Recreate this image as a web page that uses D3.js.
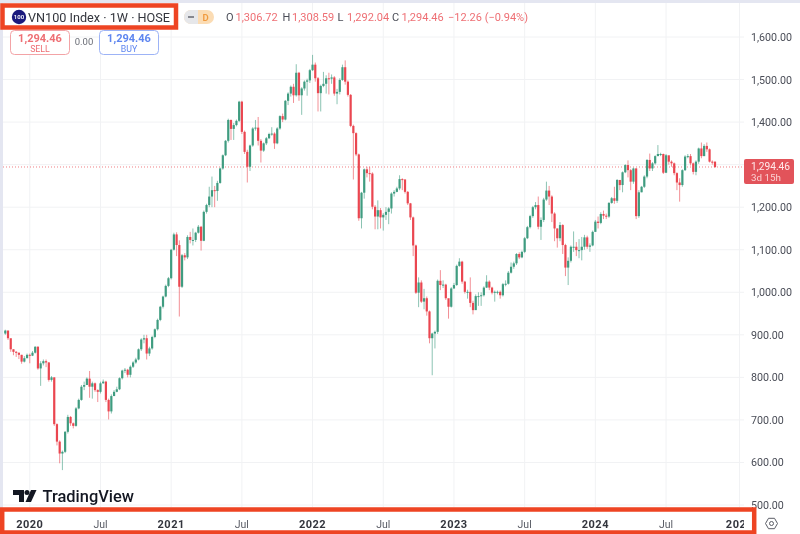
<!DOCTYPE html>
<html><head><meta charset="utf-8">
<script src="https://cdnjs.cloudflare.com/ajax/libs/d3/7.8.5/d3.min.js"></script>
<style>
html,body{margin:0;padding:0;background:#fff;overflow:hidden}
svg{display:block;filter:blur(0.55px);font-family:Roboto,"Noto Sans",sans-serif}
</style></head><body><svg id="c" width="800" height="534"></svg>
<script>
const firstWeek = "2019-11-04";
const firstOpen = 903;
const closes = [910,892,866,860,858,853,837,845,853,851,
858,872,821,833,838,835,794,800,690,649,
621,625,672,707,692,686,727,747,778,782,
797,778,786,770,766,786,790,747,720,756,
766,772,798,816,818,806,825,835,842,866,
889,892,856,868,895,913,935,966,990,1015,
1033,1100,1136,1111,1013,1087,1082,1130,1123,1123,
1140,1154,1121,1189,1205,1225,1240,1238,1257,1291,
1322,1356,1405,1384,1393,1403,1448,1377,1330,1295,
1345,1385,1387,1356,1333,1350,1362,1372,1373,1350,
1385,1414,1406,1450,1467,1483,1463,1516,1463,1479,
1495,1498,1522,1535,1503,1468,1485,1490,1503,1502,
1505,1467,1471,1499,1529,1495,1464,1391,1374,1324,
1174,1234,1289,1280,1279,1201,1178,1193,1176,1182,
1189,1197,1232,1236,1244,1266,1265,1236,1209,1176,
1110,999,1023,978,986,955,892,903,907,1027,
1017,1018,986,966,1009,1017,1062,1072,1025,1001,
1001,975,958,991,991,993,1011,1025,1011,999,
1001,1001,993,1019,1020,1046,1060,1068,1090,1082,
1095,1127,1153,1179,1200,1205,1154,1170,1218,1239,
1225,1185,1150,1127,1158,1111,1058,1074,1107,1107,
1099,1099,1107,1129,1107,1110,1142,1166,1163,1184,
1180,1178,1210,1221,1215,1264,1252,1282,1299,1287,
1260,1291,1179,1235,1248,1272,1311,1291,1303,1320,
1325,1325,1281,1322,1307,1303,1280,1258,1252,1287,
1319,1320,1303,1283,1307,1338,1320,1344,1336,1307,
1306.72,1294.46];
const highs = [912,910,868,866,862,858,853,850,856,856,
862,873,873,838,842,842,836,803,800,692,
652,628,674,712,709,694,730,750,782,790,
800,815,790,788,772,790,795,792,750,760,
770,778,800,818,822,820,828,838,846,868,
892,900,900,872,898,915,938,968,992,1018,
1036,1102,1140,1141,1122,1090,1092,1134,1142,1150,
1142,1158,1156,1192,1208,1248,1272,1250,1262,1293,
1324,1358,1408,1406,1398,1406,1450,1450,1380,1335,
1347,1388,1405,1412,1360,1352,1365,1375,1388,1376,
1388,1416,1420,1452,1470,1486,1490,1536,1518,1482,
1498,1502,1525,1558,1540,1506,1488,1518,1510,1516,
1512,1508,1478,1503,1535,1545,1498,1466,1394,1376,
1326,1236,1291,1295,1295,1282,1205,1216,1198,1186,
1200,1200,1235,1240,1248,1275,1268,1266,1238,1210,
1178,1112,1035,1028,1008,990,957,905,910,1030,
1052,1028,1020,984,1012,1022,1065,1080,1074,1027,
1006,1035,980,995,1000,1000,1014,1040,1028,1013,
1004,1004,1004,1022,1028,1050,1070,1072,1092,1094,
1098,1130,1156,1182,1203,1212,1225,1176,1222,1260,
1250,1228,1188,1150,1165,1160,1114,1082,1110,1143,
1118,1125,1130,1135,1133,1115,1145,1170,1178,1188,
1192,1185,1212,1224,1248,1266,1262,1284,1301,1310,
1290,1293,1292,1240,1250,1275,1313,1326,1306,1322,
1346,1328,1326,1325,1318,1310,1305,1282,1268,1289,
1322,1325,1325,1305,1310,1340,1352,1348,1352,1338,
1310,1308.59];
const lows = [900,888,860,852,848,843,832,835,845,833,
850,856,818,780,828,824,790,790,686,640,
598,582,622,668,686,680,684,725,745,770,
790,752,750,766,742,762,785,742,701,715,
760,765,770,795,810,800,800,822,832,840,
862,880,842,850,865,892,910,932,962,988,
1012,1030,1098,1085,943,1010,1075,1078,1115,1110,
1118,1138,1098,1120,1185,1200,1200,1200,1215,1255,
1288,1320,1352,1358,1358,1390,1400,1372,1325,1258,
1285,1342,1380,1345,1305,1330,1346,1360,1368,1337,
1348,1382,1400,1404,1440,1460,1445,1460,1450,1417,
1474,1462,1492,1520,1495,1425,1425,1482,1467,1465,
1490,1462,1442,1465,1497,1488,1460,1388,1265,1320,
1168,1150,1220,1270,1260,1195,1148,1148,1150,1145,
1170,1160,1185,1225,1235,1240,1240,1232,1205,1170,
1085,996,965,975,960,945,880,805,868,902,
1005,1010,982,938,964,1008,1015,1060,1020,997,
985,965,948,960,968,968,990,1010,1005,995,
978,995,985,990,1014,1018,1044,1055,1064,1078,
1080,1092,1125,1150,1175,1195,1148,1123,1165,1215,
1205,1165,1120,1105,1120,1090,1038,1017,1070,1095,
1085,1080,1075,1100,1102,1095,1108,1142,1150,1160,
1172,1172,1175,1208,1208,1210,1240,1235,1280,1270,
1240,1255,1172,1175,1235,1245,1268,1285,1285,1300,
1320,1320,1278,1280,1300,1295,1275,1240,1213,1248,
1285,1315,1298,1277,1275,1302,1315,1320,1330,1305,
1300,1292.04];
const priceTicks = [500,600,700,800,900,1000,1100,1200,1300,1400,1500,1600];
const axisLabels = priceTicks.filter(d=>d!==1300);
const timeTicks = [["2020-01-06","2020",true],["2020-07-06","Jul",false],["2021-01-04","2021",true],["2021-07-05","Jul",false],["2022-01-03","2022",true],["2022-07-04","Jul",false],["2023-01-02","2023",true],["2023-07-03","Jul",false],["2024-01-01","2024",true],["2024-07-01","Jul",false],["2025-01-06","2025",true]];
const lastPrice = 1294.46;
const ohlcLabels = [["O","1,306.72"],["H","1,308.59"],["L","1,292.04"],["C","1,294.46"]];
const changeLabel = "−12.26 (−0.94%)";
const title = "VN100 Index · 1W · HOSE";

const up="#3f9c80", down="#ea4650", redText="#ee6f74", blueText="#5f86f0";
const parse=d3.utcParse("%Y-%m-%d");
const t0=parse(firstWeek);
const dates=closes.map((_,i)=>d3.utcDay.offset(t0,i*7));
const x=d3.scaleUtc().domain([dates[0],dates[dates.length-1]]).range([5.3,715]);
const y=d3.scaleLinear().domain([500,1600]).range([505,37]);
const svg=d3.select("#c");
svg.append("rect").attr("width",800).attr("height",534).attr("fill","#fff");
// grid
svg.append("g").selectAll("line").data(priceTicks).join("line")
 .attr("x1",3).attr("x2",744).attr("y1",d=>y(d)).attr("y2",d=>y(d)).attr("stroke","#f1f2f4");
svg.append("g").selectAll("line").data(timeTicks).join("line")
 .attr("x1",d=>x(parse(d[0]))).attr("x2",d=>x(parse(d[0]))).attr("y1",3).attr("y2",507).attr("stroke","#f1f2f4");
// frame
svg.append("rect").attr("x",0).attr("y",0).attr("width",800).attr("height",3).attr("fill","#e4e6f1");
svg.append("rect").attr("x",0).attr("y",0).attr("width",3).attr("height",534).attr("fill","#e4e6f1");
// last price line
svg.append("line").attr("x1",3).attr("x2",744).attr("y1",y(lastPrice)).attr("y2",y(lastPrice))
 .attr("stroke","#ef7f85").attr("stroke-width",1).attr("stroke-dasharray","1 2");
// candles
const bars=closes.map((c,i)=>({d:dates[i],o:i?closes[i-1]:firstOpen,h:highs[i],l:lows[i],c}));
const g=svg.append("g").selectAll("g").data(bars).join("g");
g.append("line").attr("x1",d=>x(d.d)).attr("x2",d=>x(d.d)).attr("y1",d=>y(d.h)).attr("y2",d=>y(d.l))
 .attr("stroke",d=>d.c>=d.o?up:down).attr("stroke-width",1).attr("opacity",.6);
g.append("rect").attr("x",d=>x(d.d)-1.1).attr("width",2.2)
 .attr("y",d=>y(Math.max(d.o,d.c))).attr("height",d=>Math.max(1,Math.abs(y(d.o)-y(d.c))))
 .attr("fill",d=>d.c>=d.o?up:down);
// price axis
svg.append("g").selectAll("text").data(axisLabels).join("text")
 .attr("x",751).attr("y",d=>y(d)+4).attr("font-size",10.7).attr("letter-spacing",0).attr("fill","#4a4d57")
 .text(d=>d3.format(",.2f")(d));
// price tag
svg.append("rect").attr("x",744).attr("y",159).attr("width",50).attr("height",25).attr("rx",2).attr("fill","#e2535a");
svg.append("text").attr("x",751).attr("y",169.5).attr("font-size",10.2).attr("fill","#ffe9ea").text(d3.format(",.2f")(lastPrice));
svg.append("text").attr("x",751).attr("y",181.2).attr("font-size",9.8).attr("fill","#fbd0d2").text("3d 15h");
// time labels
const defs=svg.append("defs");
defs.append("clipPath").attr("id","tc").append("rect").attr("x",0).attr("y",505).attr("width",744).attr("height",29);
// highlight boxes
svg.append("rect").attr("x",2.2).attr("y",509.5).attr("width",752).attr("height",23).attr("fill","#fff").attr("stroke","#ee4423").attr("stroke-width",4.5);
svg.append("g").attr("clip-path","url(#tc)").selectAll("text").data(timeTicks).join("text")
 .attr("x",d=>x(parse(d[0]))).attr("y",527.5).attr("text-anchor","middle")
 .attr("font-size",d=>d[2]?11:10.5).attr("font-weight",d=>d[2]?700:400).attr("letter-spacing",d=>d[2]?0.5:0)
 .attr("fill",d=>d[2]?"#33353d":"#5a5d66").text(d=>d[1]);
svg.append("rect").attr("x",2.5).attr("y",5.5).attr("width",173.5).attr("height",22).attr("fill","#fff").attr("stroke","#ee4423").attr("stroke-width",4.5);
// title
svg.append("circle").attr("cx",19).attr("cy",17).attr("r",7.2).attr("fill","#1b1a7e");
svg.append("text").attr("x",19).attr("y",19).attr("text-anchor","middle").attr("font-size",6).attr("fill","#fff").attr("font-weight",600).text("100");
svg.append("text").attr("x",28).attr("y",22).attr("font-size",13.6).attr("fill","#33353d").attr("textLength",142).attr("lengthAdjust","spacingAndGlyphs").text(title);
// interval pill
svg.append("rect").attr("x",184).attr("y",10).attr("width",30).attr("height",14).attr("rx",7).attr("fill","#fbdcb4");
svg.append("path").attr("d","M191 10H198V24H191A7 7 0 0 1 191 10Z").attr("fill","#e6e7ea");
svg.append("rect").attr("x",188).attr("y",16).attr("width",6).attr("height",2).attr("fill","#85878f");
svg.append("text").attr("x",205.5).attr("y",21).attr("text-anchor","middle").attr("font-size",9.5).attr("font-weight",600).attr("fill","#f09a3e").text("D");
// OHLC legend
const lx=[226,282.5,337.5,392];
ohlcLabels.forEach((d,i)=>{
 svg.append("text").attr("x",lx[i]).attr("y",21).attr("font-size",11).attr("fill","#4a4d57").text(d[0]);
 svg.append("text").attr("x",lx[i]+9.5).attr("y",21).attr("font-size",11).attr("fill",redText).text(d[1]);
});
svg.append("text").attr("x",448).attr("y",21).attr("font-size",11).attr("fill",redText).attr("textLength",80).attr("lengthAdjust","spacingAndGlyphs").text(changeLabel);
// buy / sell
[[10,"SELL",redText,"#f3a3a6"],[99,"BUY",blueText,"#9db3f6"]].forEach(([bx,lab,col,st])=>{
 svg.append("rect").attr("x",bx+.5).attr("y",30.5).attr("width",59).attr("height",24).attr("rx",4).attr("fill","#fff").attr("stroke",st);
 svg.append("text").attr("x",bx+30).attr("y",42).attr("text-anchor","middle").attr("font-size",11).attr("font-weight",700).attr("fill",col).text(d3.format(",.2f")(lastPrice));
 svg.append("text").attr("x",bx+30).attr("y",52).attr("text-anchor","middle").attr("font-size",8.8).attr("fill",col).text(lab);
});
svg.append("text").attr("x",84).attr("y",45).attr("text-anchor","middle").attr("font-size",9.5).attr("fill","#6a6d76").text("0.00");
// logo
const logo=svg.append("g").attr("fill","#131722");
logo.append("path").attr("d","M13 490H24V502H19V495H13Z");
logo.append("circle").attr("cx",27).attr("cy",492.5).attr("r",2.5);
logo.append("path").attr("d","M31 490H36.5L31 502H25.5Z");
logo.append("text").attr("x",42.5).attr("y",501.5).attr("font-size",16.2).attr("font-weight",500).attr("textLength",91.5).attr("lengthAdjust","spacingAndGlyphs").text("TradingView");
// settings icon
svg.append("path").attr("d",d3.range(6).map(i=>{const a=Math.PI/3*i;return (i?"L":"M")+(771.5+6*Math.cos(a))+" "+(523.5+6*Math.sin(a));}).join("")+"Z").attr("fill","none").attr("stroke","#5a5d66").attr("stroke-width",1);
svg.append("circle").attr("cx",771.5).attr("cy",523.5).attr("r",2).attr("fill","none").attr("stroke","#5a5d66");
</script></body></html>
